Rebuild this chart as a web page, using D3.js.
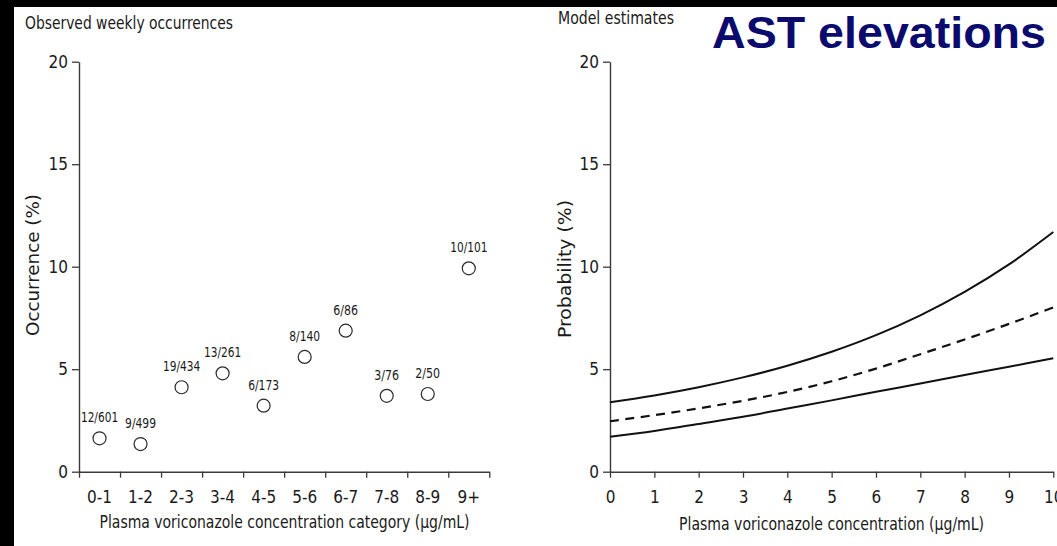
<!DOCTYPE html>
<html>
<head>
<meta charset="utf-8">
<script src="https://cdn.jsdelivr.net/npm/d3@7"></script>
<style>
  html, body { margin: 0; padding: 0; background: #fff; }
  svg { display: block; }
  .narrow { font-family: "Liberation Sans Narrow", "DejaVu Sans Condensed", "Roboto Condensed", "Open Sans", sans-serif; }
</style>
</head>
<body>
<svg id="chart" width="1057" height="546"></svg>
<script>
// ---------------- data ----------------
const categories = ["0-1","1-2","2-3","3-4","4-5","5-6","6-7","7-8","8-9","9+"];
const countLabels = ["12/601","9/499","19/434","13/261","6/173","8/140","6/86","3/76","2/50","10/101"];
const occurrence = [1.63, 1.35, 4.12, 4.8, 3.22, 5.6, 6.88, 3.7, 3.79, 9.92];

const concentration = [0,1,2,3,4,5,6,7,8,9,10];
const upperCI  = [3.39, 3.72, 4.12, 4.60, 5.17, 5.85, 6.66, 7.63, 8.77, 10.11, 11.69];
const estimate = [2.46, 2.76, 3.09, 3.46, 3.89, 4.41, 5.03, 5.73, 6.45, 7.21, 8.01];
const lowerCI  = [1.71, 1.99, 2.33, 2.68, 3.08, 3.48, 3.9, 4.3, 4.72, 5.12, 5.53];

const yTicks = [0, 5, 10, 15, 20];
const xTicksRight = [0,1,2,3,4,5,6,7,8,9,10];

// ---------------- setup ----------------
const svg = d3.select("#chart");
const axisColor = "#3a3a3a";
const textColor = "#1a1a1a";

// black frame bands
svg.append("rect").attr("x", 0).attr("y", 0).attr("width", 14).attr("height", 546).attr("fill", "#000");
svg.append("rect").attr("x", 0).attr("y", 0).attr("width", 1057).attr("height", 7).attr("fill", "#000");

const y = d3.scaleLinear().domain([0, 20]).range([471.7, 61.7]);

function styleAxis(g, fontSize) {
  g.selectAll("path.domain").attr("stroke", axisColor).attr("stroke-width", 1.4);
  g.selectAll(".tick line").attr("stroke", axisColor).attr("stroke-width", 1.3);
  g.selectAll(".tick text").attr("fill", textColor).attr("class", "narrow")
    .style("font-size", fontSize + "px");
}

// ---------------- left panel ----------------
const xL = d3.scaleLinear().domain([0, 10]).range([79, 489.3]);
const xBand = d3.scaleBand().domain(categories).range([79, 489.3]).padding(0);

const gL = svg.append("g");
gL.append("g").attr("transform", "translate(79,0)")
  .call(d3.axisLeft(y).tickValues(yTicks).tickSize(7).tickPadding(4).tickSizeOuter(0))
  .call(g => styleAxis(g, 17));
gL.append("g").attr("transform", "translate(0,471.7)")
  .call(d3.axisBottom(xL).tickValues(d3.range(0, 11)).tickFormat("").tickSize(6).tickSizeOuter(0))
  .call(g => styleAxis(g, 17));
gL.append("g").attr("transform", "translate(0,471.7)")
  .call(d3.axisBottom(xBand).tickSize(0).tickPadding(19))
  .call(g => g.select("path.domain").remove())
  .call(g => styleAxis(g, 17));

const pts = categories.map((c, i) => ({c, v: occurrence[i], lab: countLabels[i]}));
gL.selectAll("circle.pt").data(pts).join("circle")
  .attr("class", "pt")
  .attr("cx", d => xBand(d.c) + xBand.bandwidth() / 2)
  .attr("cy", d => y(d.v))
  .attr("r", 6.5)
  .attr("fill", "#fff")
  .attr("stroke", "#2a2a2a")
  .attr("stroke-width", 1.2);
gL.selectAll("text.lab").data(pts).join("text")
  .attr("class", "lab narrow")
  .attr("x", d => xBand(d.c) + xBand.bandwidth() / 2)
  .attr("y", d => y(d.v) - 16)
  .attr("text-anchor", "middle")
  .attr("fill", textColor)
  .style("font-size", "14.5px")
  .attr("textLength", d => d.lab.length * 6.2)
  .attr("lengthAdjust", "spacingAndGlyphs")
  .text(d => d.lab);

// titles / labels
svg.append("text").attr("class", "narrow").attr("x", 25).attr("y", 29)
  .attr("fill", textColor).style("font-size", "18px")
  .attr("textLength", 208).attr("lengthAdjust", "spacingAndGlyphs")
  .text("Observed weekly occurrences");
svg.append("text").attr("class", "narrow").attr("x", 284.5).attr("y", 528)
  .attr("text-anchor", "middle").attr("fill", textColor).style("font-size", "17.5px")
  .attr("textLength", 370).attr("lengthAdjust", "spacingAndGlyphs")
  .text("Plasma voriconazole concentration category (\u03BCg/mL)");
svg.append("text").attr("class", "narrow")
  .attr("transform", "translate(39,265) rotate(-90)")
  .attr("text-anchor", "middle").attr("fill", textColor).style("font-size", "17.5px")
  .attr("textLength", 142).attr("lengthAdjust", "spacingAndGlyphs")
  .text("Occurrence (%)");

// ---------------- right panel ----------------
const xR = d3.scaleLinear().domain([0, 10]).range([610, 1053.3]);
const gR = svg.append("g");
gR.append("g").attr("transform", "translate(610,0)")
  .call(d3.axisLeft(y).tickValues(yTicks).tickSize(7).tickPadding(4).tickSizeOuter(0))
  .call(g => styleAxis(g, 17));
gR.append("g").attr("transform", "translate(0,471.7)")
  .call(d3.axisBottom(xR).tickValues(xTicksRight).tickFormat(d3.format("d")).tickSize(6).tickPadding(13).tickSizeOuter(0))
  .call(g => styleAxis(g, 17));

const line = d3.line()
  .x((d, i) => xR(concentration[i]))
  .y(d => y(d))
  .curve(d3.curveCatmullRom);

gR.append("path").datum(upperCI).attr("d", line)
  .attr("fill", "none").attr("stroke", "#111").attr("stroke-width", 2);
gR.append("path").datum(lowerCI).attr("d", line)
  .attr("fill", "none").attr("stroke", "#111").attr("stroke-width", 2);
gR.append("path").datum(estimate).attr("d", line)
  .attr("fill", "none").attr("stroke", "#111").attr("stroke-width", 2.2)
  .attr("stroke-dasharray", "9,6.5");

svg.append("text").attr("class", "narrow").attr("x", 558).attr("y", 24)
  .attr("fill", textColor).style("font-size", "18px")
  .attr("textLength", 116).attr("lengthAdjust", "spacingAndGlyphs")
  .text("Model estimates");
svg.append("text").attr("class", "narrow").attr("x", 831.6).attr("y", 530)
  .attr("text-anchor", "middle").attr("fill", textColor).style("font-size", "17.5px")
  .attr("textLength", 305).attr("lengthAdjust", "spacingAndGlyphs")
  .text("Plasma voriconazole concentration (\u03BCg/mL)");
svg.append("text").attr("class", "narrow")
  .attr("transform", "translate(571,269) rotate(-90)")
  .attr("text-anchor", "middle").attr("fill", textColor).style("font-size", "17.5px")
  .attr("textLength", 138).attr("lengthAdjust", "spacingAndGlyphs")
  .text("Probability (%)");

// big overlay title
svg.append("text").attr("x", 712).attr("y", 48)
  .attr("fill", "#0b0b6e")
  .style("font-family", "'Liberation Sans', Arial, sans-serif")
  .style("font-weight", "bold").style("font-size", "45px")
  .attr("textLength", 334).attr("lengthAdjust", "spacingAndGlyphs")
  .text("AST elevations");
</script>
</body>
</html>
